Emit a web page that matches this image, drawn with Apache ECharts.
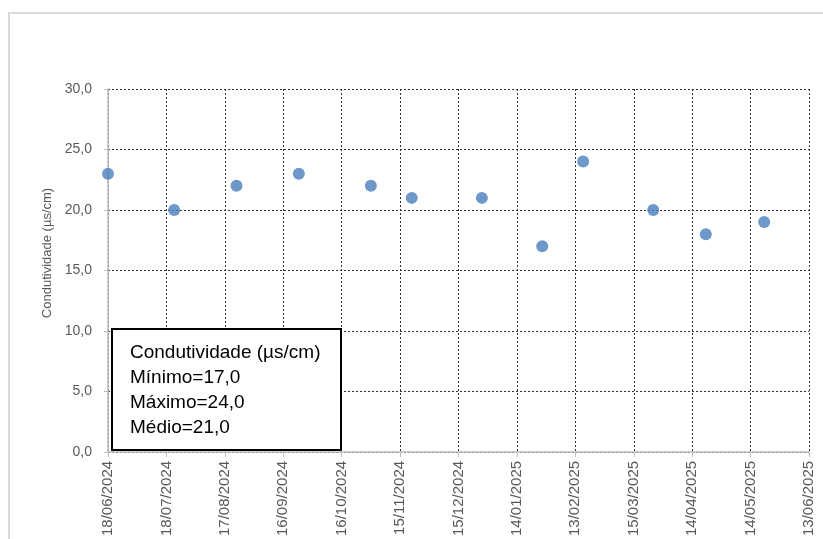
<!DOCTYPE html>
<html>
<head>
<meta charset="utf-8">
<script src="https://cdn.jsdelivr.net/npm/echarts@6/dist/echarts.min.js"></script>
<style>
html,body{margin:0;padding:0;background:#fff;}
#chart{width:823px;height:539px;}
</style>
</head>
<body>
<div id="chart"></div>
<script>
var startDate = '2024-06-18';
var sampleDates = ['2024-06-18','2024-07-22','2024-08-23','2024-09-24','2024-10-31','2024-11-21','2024-12-27','2025-01-27','2025-02-17','2025-03-25','2025-04-21','2025-05-21'];
var conductivity = [23,20,22,23,22,21,21,17,24,20,18,19];
var xTickLabels = ['18/06/2024','18/07/2024','17/08/2024','16/09/2024','16/10/2024','15/11/2024','15/12/2024','14/01/2025','13/02/2025','15/03/2025','14/04/2025','14/05/2025','13/06/2025'];
var yTickLabels = ['0,0','5,0','10,0','15,0','20,0','25,0','30,0'];
var yTitle = 'Condutividade (µs/cm)';
var boxLines = ['Condutividade (µs/cm)','Mínimo=17,0','Máximo=24,0','Médio=21,0'];

function dayOffset(s){
  var a = s.split('-'), b = startDate.split('-');
  return Math.round((Date.UTC(+a[0],a[1]-1,+a[2]) - Date.UTC(+b[0],b[1]-1,+b[2]))/86400000);
}
var points = sampleDates.map(function(d,i){ return [dayOffset(d), conductivity[i]]; });

var font = '"Liberation Sans", Arial, sans-serif';
var chart = echarts.init(document.getElementById('chart'));
chart.setOption({
  backgroundColor:'#ffffff',
  animation:false,
  grid:{left:108,right:14,top:89,bottom:86},
  xAxis:{
    type:'value', min:0, max:360, interval:30,
    axisLine:{show:true,lineStyle:{color:'#bfbfbf',width:1.5}},
    axisTick:{show:true,length:5,lineStyle:{color:'#bfbfbf'}},
    axisLabel:{rotate:90,margin:9,color:'#595959',fontSize:15,fontFamily:font,
      formatter:function(v){ return xTickLabels[Math.round(v/30)]; }},
    splitLine:{show:true,lineStyle:{color:'#333',type:[2,2],width:1}}
  },
  yAxis:{
    type:'value', min:0, max:30, interval:5,
    axisLine:{show:true,lineStyle:{color:'#bfbfbf',width:1.5}},
    axisTick:{show:true,length:4,lineStyle:{color:'#bfbfbf'}},
    axisLabel:{margin:16,color:'#595959',fontSize:14,fontFamily:font,
      formatter:function(v){ return yTickLabels[Math.round(v/5)]; }},
    splitLine:{show:true,lineStyle:{color:'#333',type:[2,2],width:1}}
  },
  series:[{
    type:'scatter', data:points, symbol:'circle', symbolSize:12,
    itemStyle:{color:'#4a7ebb'}
  }],
  graphic:[
    {type:'rect',z:0,silent:true,shape:{x:9,y:13,width:840,height:600},
     style:{fill:'none',stroke:'#d9d9d9',lineWidth:2}},
    {type:'text',z:100,x:47,y:253,rotation:Math.PI/2,
     style:{text:yTitle,fill:'#595959',font:'13px '+font,textAlign:'center',textVerticalAlign:'middle'}},
    {type:'rect',z:100,shape:{x:112,y:329,width:229,height:121},
     style:{fill:'#ffffff',stroke:'#000000',lineWidth:2}},
    {type:'text',z:101,x:130,y:340,
     style:{text:boxLines.join('\n'),fill:'#000000',font:'19px '+font,lineHeight:25}}
  ]
});
</script>
</body>
</html>
